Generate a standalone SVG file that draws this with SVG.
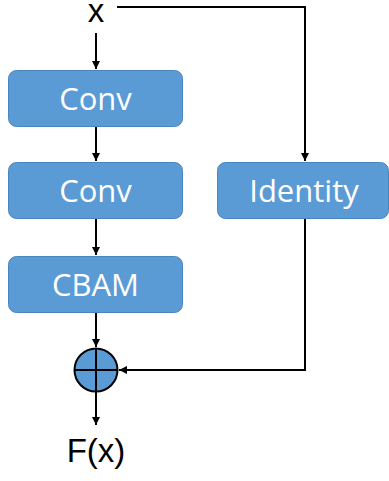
<svg xmlns="http://www.w3.org/2000/svg" width="389" height="481" viewBox="0 0 389 481">
<defs>
<marker id="ah" viewBox="0 0 10 10" refX="10" refY="5" markerWidth="4" markerHeight="4" orient="auto" markerUnits="strokeWidth">
<path d="M0,0 L10,5 L0,10 z" fill="#000"/>
</marker>
<style>
.box{fill:#5B9BD5;stroke:#4A86BE;stroke-width:1}
.lbl{font-family:"Open Sans","Liberation Sans",sans-serif;font-size:31px;fill:#fff;text-anchor:middle}
.blk{font-family:"Liberation Sans",Arial,sans-serif;font-size:33px;fill:#000;text-anchor:middle}
.ln{fill:none;stroke:#000;stroke-width:2}
</style>
</defs>
<rect width="389" height="481" fill="#fff"/>
<g id="connectors">
<path class="ln" d="M96,33 V69" marker-end="url(#ah)"/>
<path class="ln" d="M96,126 V161" marker-end="url(#ah)"/>
<path class="ln" d="M96,219 V255" marker-end="url(#ah)"/>
<path class="ln" d="M96,313 V347" marker-end="url(#ah)"/>
<path class="ln" d="M117,7 H305 V161" marker-end="url(#ah)"/>
<path class="ln" d="M305,219 V370 H119" marker-end="url(#ah)"/>
<path class="ln" d="M96,392 V425" marker-end="url(#ah)"/>
</g>
<g id="x"><text class="blk" x="96" y="22">x</text></g>
<g id="conv1"><rect class="box" x="8.5" y="70.5" width="174" height="56" rx="8"/><text class="lbl" x="95.5" y="110">Conv</text></g>
<g id="conv2"><rect class="box" x="8.5" y="162.5" width="174" height="56" rx="8"/><text class="lbl" x="95.5" y="202">Conv</text></g>
<g id="cbam"><rect class="box" x="8.5" y="256.5" width="174" height="56" rx="8"/><text class="lbl" x="95.5" y="296">CBAM</text></g>
<g id="identity"><rect class="box" x="217.5" y="162.5" width="171" height="56" rx="8"/><text class="lbl" x="304" y="202">Identity</text></g>
<g id="sum"><circle cx="96" cy="370" r="21.5" fill="#5B9BD5" stroke="#000" stroke-width="2"/><path class="ln" d="M74.5,370 H117.5 M96,348.5 V391.5"/></g>
<g id="fx"><text class="blk" x="96" y="462">F(x)</text></g>
</svg>
